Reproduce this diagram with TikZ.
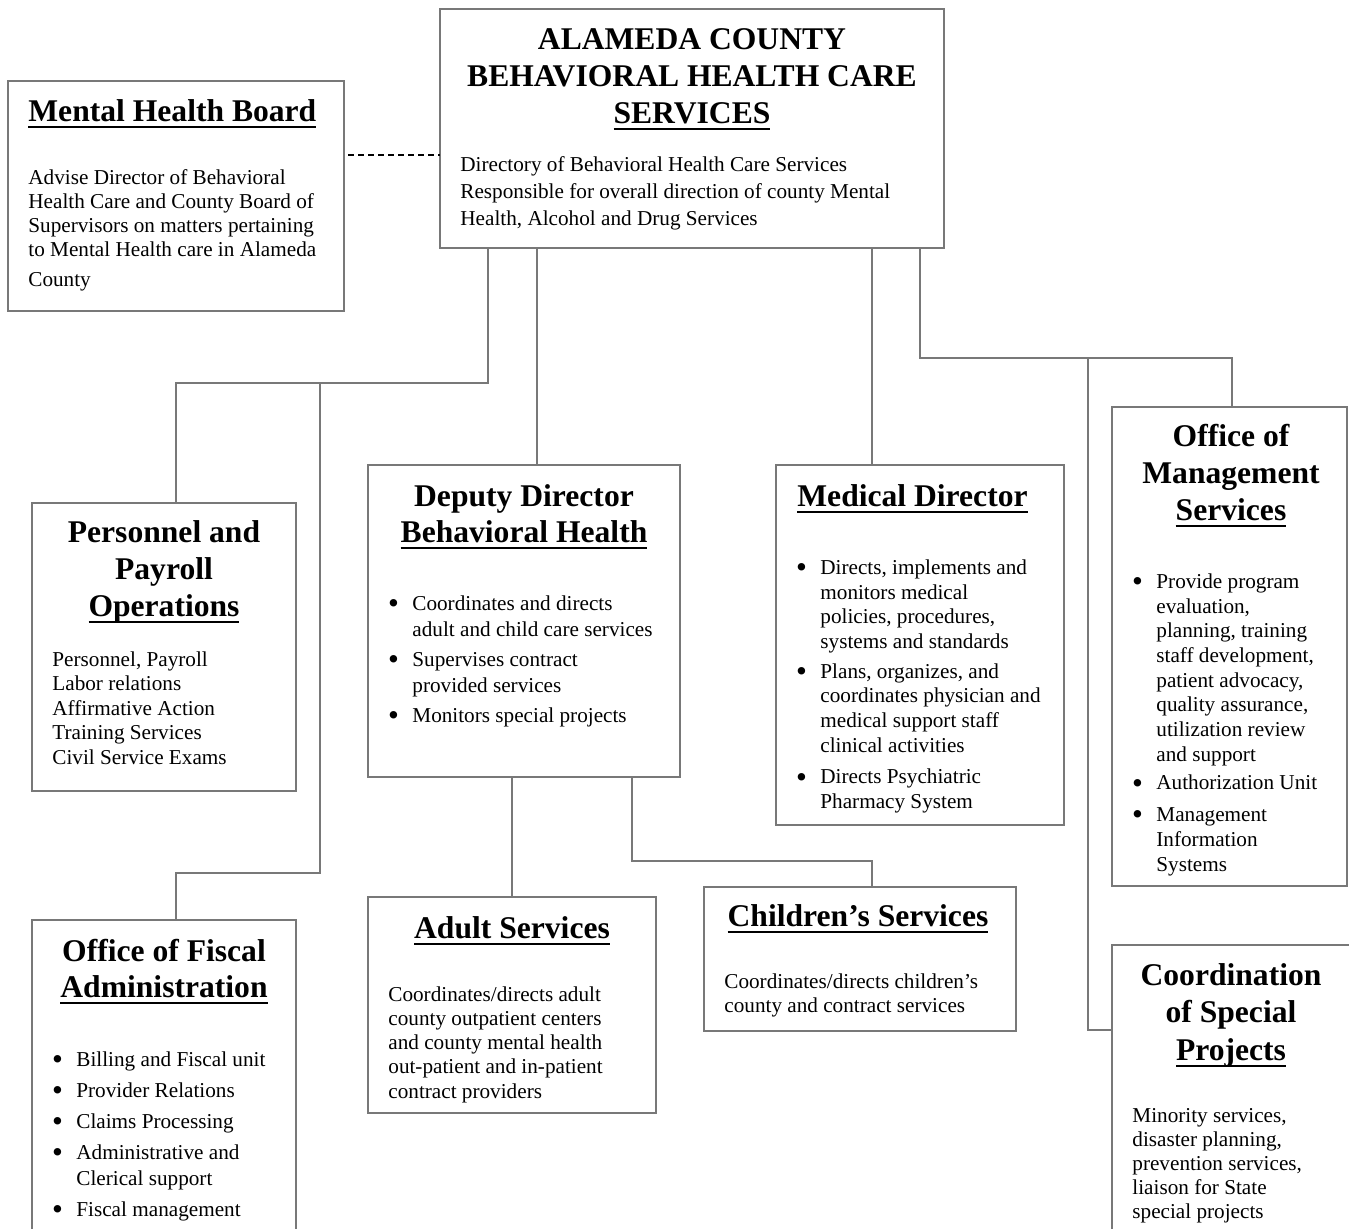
\documentclass[tikz,border=0pt]{standalone}
\usepackage{fontspec}
\setmainfont{Liberation Serif}
\usetikzlibrary{calc}
\definecolor{linegray}{RGB}{120,120,120}
\newcommand\myul[1]{\setbox0\hbox{#1}\rlap{\vrule width\wd0 height -2.2pt depth 3.3pt}\box0}
\newcommand\fl{\rule{0pt}{0.8em}}
\newcommand\bl{\makebox[11.5pt][l]{\raisebox{-1.6pt}{\fontsize{15.5pt}{0pt}\selectfont\kern-0.6pt\textbullet}}}
\newcommand\ind{\hspace*{11.5pt}}
\newcommand\titlefont{\fontsize{15.8pt}{18.5pt}\selectfont\bfseries}
\newcommand\bodyfont{\fontsize{10.6pt}{12pt}\selectfont}
\tikzset{
  orgbox/.style={draw=linegray, line width=1pt, inner sep=0pt, outer sep=0pt, anchor=north west},
  conn/.style={draw=linegray, line width=0.9pt},
  dashconn/.style={draw=black, line width=1pt, dash pattern=on 3pt off 2pt},
  ttlc/.style={inner sep=0pt, anchor=north, align=center, font=\titlefont},
  ttll/.style={inner sep=0pt, anchor=north west, align=left, font=\titlefont},
  bodytxt/.style={inner sep=0pt, anchor=north west, align=left, font=\bodyfont},
}
\begin{document}
\begin{tikzpicture}[x=0.5pt,y=-0.5pt]
\useasboundingbox (0,0) rectangle (1349,1228);
\clip (0,0) rectangle (1349,1228);

% boxes
\node[orgbox, minimum width=252pt, minimum height=119.5pt] (top) at (440,9) {};
\node[orgbox, minimum width=168pt, minimum height=115pt] (mhb) at (8,81) {};
\node[orgbox, minimum width=132pt, minimum height=144pt] (pers) at (32,503) {};
\node[orgbox, minimum width=156pt, minimum height=156pt] (dep) at (368,465) {};
\node[orgbox, minimum width=144pt, minimum height=180pt] (med) at (776,465) {};
\node[orgbox, minimum width=117.5pt, minimum height=239.5pt] (mgmt) at (1112,407) {};
\node[orgbox, minimum width=132pt, minimum height=200pt] (fisc) at (32,920) {};
\node[orgbox, minimum width=144pt, minimum height=108pt] (adult) at (368,897) {};
\node[orgbox, minimum width=156pt, minimum height=72pt] (child) at (704,887) {};
\node[orgbox, minimum width=150pt, minimum height=200pt] (coord) at (1112,945) {};

% junction coordinates
\coordinate (jP) at (320,383);
\coordinate (jM) at (1088,358);

% connectors
\draw[conn] ($(top.south west)+(48,0)$) |- ($(pers.north west)+(144,-120)$) -- ($(pers.north west)+(144,0)$);
\draw[conn] (jP) |- ($(fisc.north west)+(144,-47)$) -- ($(fisc.north west)+(144,0)$);
\draw[conn] ($(top.south west)+(97,0)$) -- ($(dep.north west)+(169,0)$);
\draw[conn] ($(top.south west)+(432,0)$) -- ($(med.north west)+(96,0)$);
\draw[conn] ($(top.south west)+(480,0)$) |- ($(mgmt.north west)+(120,-49)$) -- ($(mgmt.north west)+(120,0)$);
\draw[conn] (jM) |- ($(coord.north west)+(0,85)$);
\draw[conn] ($(dep.south west)+(144,0)$) -- ($(adult.north west)+(144,0)$);
\draw[conn] ($(dep.south west)+(264,0)$) |- ($(child.north west)+(168,-26)$) -- ($(child.north west)+(168,0)$);
\draw[dashconn] ($(mhb.north east)+(4,74)$) -- ($(top.north west)+(0,146)$);

% top box text
\node[ttlc] (tTop) at (692,23.7) {\fl ALAMEDA COUNTY\\BEHAVIORAL HEALTH CARE\\\myul{SERVICES}};
\node[bodytxt, font=\fontsize{10.6pt}{13.5pt}\selectfont] (bTop) at (460,154) {\fl Directory of Behavioral Health Care Services\\Responsible for overall direction of county Mental\\Health, Alcohol and Drug Services};

% mental health board
\node[ttll] (tMhb) at (28,95.7) {\fl\myul{Mental Health Board}};
\node[bodytxt] (bMhb) at (28,167) {\fl Advise Director of Behavioral\\Health Care and County Board of\\Supervisors on matters pertaining\\to Mental Health care in Alameda\\[3pt]County};

% personnel
\node[ttlc] (tPers) at (164,516.7) {\fl Personnel and\\Payroll\\\myul{Operations}};
\node[bodytxt, font=\fontsize{10.6pt}{12.25pt}\selectfont] (bPers) at (52,649) {\fl Personnel, Payroll\\Labor relations\\Affirmative Action\\Training Services\\Civil Service Exams};

% deputy
\node[ttlc, font=\fontsize{15.8pt}{18pt}\selectfont\bfseries] (tDep) at (524,480.7) {\fl Deputy Director\\\myul{Behavioral Health}};
\node[bodytxt, font=\fontsize{10.6pt}{13pt}\selectfont] (bDep) at (389,593) {\fl\bl Coordinates and directs\\\ind adult and child care services\\[2pt]\bl Supervises contract\\\ind provided services\\[2pt]\bl Monitors special projects};

% medical
\node[ttll] (tMed) at (797,480.7) {\fl\myul{Medical Director}};
\node[bodytxt, font=\fontsize{10.6pt}{12.35pt}\selectfont] (bMed) at (797,557) {\fl\bl Directs, implements and\\\ind monitors medical\\\ind policies, procedures,\\\ind systems and standards\\[2.5pt]\bl Plans, organizes, and\\\ind coordinates physician and\\\ind medical support staff\\\ind clinical activities\\[3.5pt]\bl Directs Psychiatric\\\ind Pharmacy System};

% management
\node[ttlc] (tMgmt) at (1231,420.7) {\fl Office of\\Management\\\myul{Services}};
\node[bodytxt, font=\fontsize{10.6pt}{12.35pt}\selectfont] (bMgmt) at (1133,571) {\fl\bl Provide program\\\ind evaluation,\\\ind planning, training\\\ind staff development,\\\ind patient advocacy,\\\ind quality assurance,\\\ind utilization review\\\ind and support\\[2pt]\bl Authorization Unit\\[3.5pt]\bl Management\\\ind Information\\\ind Systems};

% fiscal
\node[ttlc, font=\fontsize{15.8pt}{18pt}\selectfont\bfseries] (tFisc) at (164,935.7) {\fl Office of Fiscal\\\myul{Administration}};
\node[bodytxt, font=\fontsize{10.6pt}{13pt}\selectfont] (bFisc) at (53,1049) {\fl\bl Billing and Fiscal unit\\[2.5pt]\bl Provider Relations\\[2.5pt]\bl Claims Processing\\[2.5pt]\bl Administrative and\\\ind Clerical support\\[2.5pt]\bl Fiscal management};

% adult
\node[ttlc] (tAdult) at (512,912.7) {\fl\myul{Adult Services}};
\node[bodytxt, font=\fontsize{10.6pt}{12.1pt}\selectfont] (bAdult) at (388,984) {\fl Coordinates/directs adult\\county outpatient centers\\and county mental health\\out-patient and in-patient\\contract providers};

% children
\node[ttlc] (tChild) at (858,900.7) {\fl\myul{Children’s Services}};
\node[bodytxt] (bChild) at (724,971) {\fl Coordinates/directs children’s\\county and contract services};

% coordination
\node[ttlc, font=\fontsize{15.8pt}{18.75pt}\selectfont\bfseries] (tCoord) at (1231,959.7) {\fl Coordination\\of Special\\\myul{Projects}};
\node[bodytxt] (bCoord) at (1132,1105) {\fl Minority services,\\disaster planning,\\prevention services,\\liaison for State\\special projects};
\end{tikzpicture}
\end{document}
